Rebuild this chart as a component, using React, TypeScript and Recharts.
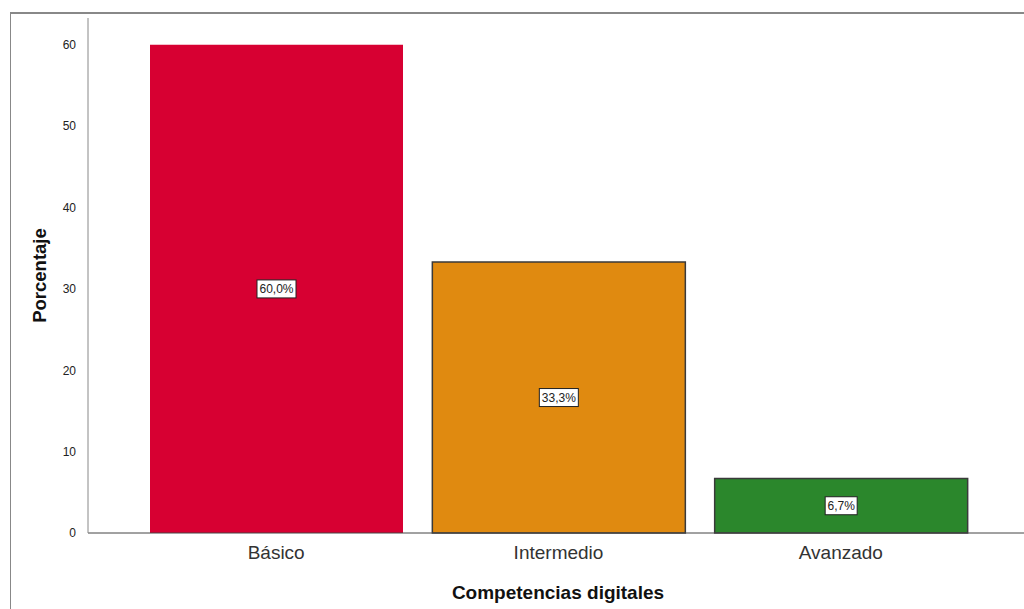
import React from "react"
import { BarChart, Bar, XAxis, YAxis, Cell, LabelList } from "recharts"

const categories = ["Básico", "Intermedio", "Avanzado"]
const percentages = [60.0, 33.3, 6.7]
const yTicks = [0, 10, 20, 30, 40, 50, 60]
const colors = ["#D70032", "#E08A10", "#2B872C"]
const strokes = ["none", "#3a3a3a", "#3a3a3a"]

const data = categories.map((name, i) => ({ name, value: percentages[i] }))

const fmt = (v: number) => v.toFixed(1).replace(".", ",") + "%"
const FONT = "Arial, Liberation Sans, sans-serif"

function BoxLabel(props: any) {
    const { x, y, width, height, value } = props
    const cx = x + width / 2
    const cy = y + height / 2
    const text = fmt(value)
    const w = text.length * 7 + 4
    return (
        <g>
            <rect x={cx - w / 2} y={cy - 9} width={w} height={18} fill="#fff" stroke="#222" strokeWidth={1} />
            <text x={cx} y={cy + 4} textAnchor="middle" fontSize={12} fontFamily={FONT} fill="#222">
                {text}
            </text>
        </g>
    )
}

function YTitle(props: any) {
    const { viewBox } = props
    const cy = viewBox.y + viewBox.height / 2
    return (
        <text x={46} y={cy} transform={`rotate(-90, 46, ${cy})`} textAnchor="middle" fontSize={18.5} fontWeight="bold" fontFamily={FONT} fill="#111">
            Porcentaje
        </text>
    )
}

export default function App() {
    return (
        <div style={{ position: "absolute", left: 0, top: 0, width: 1024, height: 609, background: "#fff", overflow: "hidden" }}>
            <div style={{ position: "absolute", left: 10, top: 12, width: 1030, height: 620, borderLeft: "1px solid #888", borderTop: "2px solid #888" }} />
            <div style={{ position: "absolute", left: 0, top: 0 }}>
                <BarChart width={1024} height={609} data={data} margin={{ top: 18, right: 0, left: 0, bottom: 0 }} barSize={253}>
                    <XAxis
                        dataKey="name"
                        height={76}
                        padding={{ left: 47, right: 42 }}
                        tickLine={false}
                        stroke="#444"
                        tick={{ fill: "#333", fontSize: 19, fontFamily: FONT }}
                        tickMargin={7}
                        label={{ value: "Competencias digitales", position: "insideBottom", offset: 10, fill: "#111", fontSize: 19, fontWeight: "bold", fontFamily: FONT, dx: 2 }}
                    />
                    <YAxis
                        width={88}
                        domain={[0, 63.3]}
                        ticks={yTicks}
                        tickLine={false}
                        stroke="#888"
                        tick={{ fill: "#222", fontSize: 12, fontFamily: FONT }}
                        tickMargin={6}
                        label={<YTitle />}
                    />
                    <Bar dataKey="value" isAnimationActive={false}>
                        {data.map((_, i) => (
                            <Cell key={`cell-${i}`} fill={colors[i]} stroke={strokes[i]} strokeWidth={1.5} />
                        ))}
                        <LabelList dataKey="value" content={<BoxLabel />} />
                    </Bar>
                </BarChart>
            </div>
        </div>
    )
}
